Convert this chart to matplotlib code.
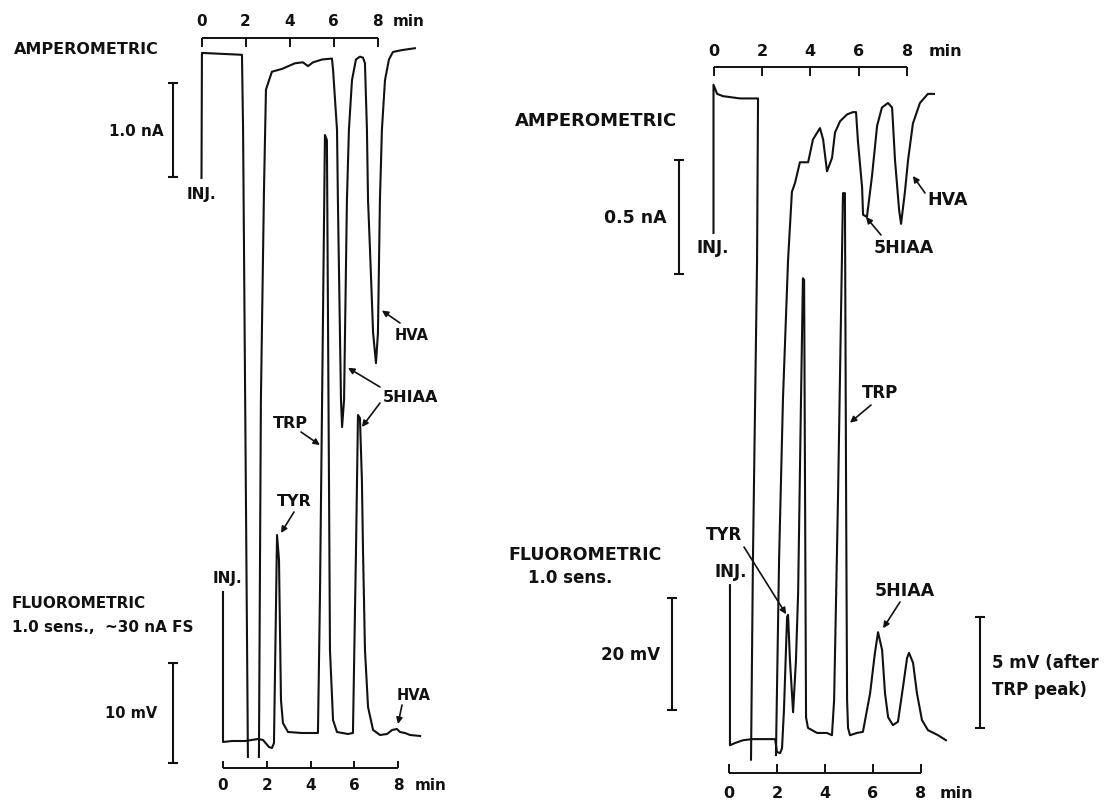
import matplotlib
matplotlib.use('Agg')
import matplotlib.pyplot as plt
import numpy as np
from matplotlib.transforms import blended_transform_factory as blend

nan = np.nan

# left panel: amperometric trace (min after injection, nA) - off-scale gap marked by nan
amp1_t = [0.00, 0.02, 1.84, 1.89, 2.11, nan, 2.61, 2.70, 2.84, 2.93, 3.20, 3.66,
          4.25, 4.61, 4.84, 5.07, 5.48, 5.93, 5.98, 6.16, 6.20, 6.34, 6.39, 6.48,
          6.61, 6.70, 6.84, 7.02, 7.20, 7.34, 7.43, 7.52, 7.57, 7.66, 7.80, 7.93,
          8.02, 8.11, 8.20, 8.34, 8.52, 8.70, 9.11, 9.70]
amp1_i = [-0.01, 1.32, 1.30, 0.50, -6.17, nan, -6.17, -2.37, -0.14, 0.93, 1.12, 1.15,
          1.21, 1.22, 1.18, 1.22, 1.25, 1.26, 1.14, 0.50, -0.25, -2.37, -2.66, -2.37,
          -0.25, 0.50, 1.03, 1.25, 1.28, 1.27, 1.21, 0.50, -0.25, -0.78, -1.66, -1.98,
          -1.66, -0.25, 0.50, 1.03, 1.25, 1.33, 1.35, 1.37]

# left panel: fluorometric trace (min, mV)
flu1_t = [0.00, 0.00, 0.41, 1.01, 1.60, 1.83, 2.10, 2.24, 2.33, 2.47, 2.56, 2.65,
          2.74, 2.97, 3.61, 4.34, 4.43, 4.53, 4.66, 4.75, 4.85, 4.89, 5.03, 5.21,
          5.71, 5.94, 6.08, 6.17, 6.26, 6.35, 6.40, 6.49, 6.63, 6.86, 7.18, 7.50,
          7.73, 7.95, 8.09, 8.32, 8.55, 9.01]
flu1_v = [17.1, 2.1, 2.2, 2.2, 2.4, 2.3, 1.6, 1.5, 2.0, 22.8, 20.3, 6.3,
          4.0, 3.1, 3.0, 3.0, 16.3, 36.3, 62.8, 62.3, 26.3, 11.3, 4.3, 3.1,
          2.9, 3.0, 21.3, 34.8, 34.5, 28.3, 21.3, 11.3, 5.6, 3.3, 2.8, 2.9,
          3.3, 3.4, 3.1, 3.0, 2.8, 2.7]

# right panel: amperometric trace (min, nA)
amp2_t = [0.00, 0.00, 0.15, 0.39, 1.10, 1.84, 1.80, 1.63, 1.55, nan, 2.58, 2.71,
          2.87, 3.08, 3.24, 3.37, 3.57, 3.78, 3.91, 4.11, 4.40, 4.53, 4.69, 4.90,
          5.02, 5.23, 5.52, 5.76, 5.89, 5.97, 6.14, 6.18, 6.34, 6.55, 6.76, 6.96,
          7.21, 7.38, 7.50, 7.67, 7.75, 7.91, 8.04, 8.24, 8.53, 8.86, 9.11]
amp2_i = [0.18, 0.83, 0.79, 0.78, 0.77, 0.77, 0.06, -1.25, -2.13, nan, -2.11, -1.25,
          -0.55, 0.06, 0.36, 0.40, 0.49, 0.49, 0.49, 0.59, 0.64, 0.59, 0.45, 0.51,
          0.62, 0.67, 0.70, 0.71, 0.71, 0.58, 0.38, 0.26, 0.25, 0.43, 0.65, 0.73,
          0.75, 0.73, 0.50, 0.28, 0.22, 0.36, 0.50, 0.66, 0.75, 0.79, 0.79]

# right panel: fluorometric trace (min, mV on the 20 mV scale)
flu2_t = [0.04, 0.04, 0.25, 0.58, 0.96, 1.92, 2.00, 2.13, 2.21, 2.29, 2.42, 2.46,
          2.54, 2.67, 2.79, 2.88, 3.00, 3.08, 3.13, 3.17, 3.21, 3.29, 3.67, 4.08,
          4.29, 4.38, 4.54, 4.75, 4.83, 4.88, 4.92, 4.96, 5.04, 5.33, 5.58, 5.88,
          6.08, 6.21, 6.38, 6.50, 6.63, 6.83, 7.04, 7.25, 7.42, 7.50, 7.67, 7.83,
          8.04, 8.29, 8.71, 9.04]
flu2_v = [22.3, -6.3, -5.9, -5.4, -5.2, -5.2, -7.5, -7.7, -6.8, 0.0, 16.6, 17.0,
          8.9, -0.4, 8.9, 20.9, 55.4, 77.1, 76.8, 37.5, -1.3, -3.2, -4.1, -4.1,
          -4.5, 1.8, 37.5, 92.3, 92.3, 37.5, 1.8, -3.2, -4.5, -4.1, -3.9, 3.0,
          10.2, 13.9, 10.7, 3.0, -1.3, -2.7, -2.1, 4.1, 9.3, 10.2, 8.4, 3.0,
          -1.8, -3.6, -4.5, -5.4]

time_ticks = [0, 2, 4, 6, 8]

W, H = 1111, 801
INK = '#111111'
plt.rcParams['font.family'] = ['DejaVu Sans']
plt.rcParams['font.weight'] = 'bold'

fig = plt.figure(figsize=(W / 100, H / 100), dpi=100)
fig.patch.set_facecolor('white')

# layout axes in pixel units (y down) for labels
lay = fig.add_axes([0, 0, 1, 1], label='layout')
lay.set_xlim(0, W)
lay.set_ylim(H, 0)
lay.axis('off')


def trace_axes(name, x0, ppm, y0, ppu):
    # x0/y0: pixel position of t=0 / signal 0, ppm/ppu: pixels per min / per unit
    ax = fig.add_axes([0, 0, 1, 1], label=name)
    ax.set_xlim(-x0 / ppm, (W - x0) / ppm)
    ax.set_ylim((y0 - H) / ppu, y0 / ppu)
    ax.axis('off')
    ax.patch.set_alpha(0)
    return ax


def time_bar(ax, ypix, tick_len, label_y, min_x, size):
    tr = blend(ax.transData, lay.transData)
    ax.hlines(ypix, time_ticks[0], time_ticks[-1], transform=tr, color=INK, lw=1.4)
    ax.vlines(time_ticks, ypix, ypix + tick_len, transform=tr, color=INK, lw=1.4)
    for t in time_ticks:
        ax.text(t, label_y, str(t), transform=tr, ha='center', va='center',
                fontsize=size, color=INK)
    lay.text(min_x, label_y, 'min', ha='left', va='center', fontsize=size, color=INK)


def scale_bar(ax, xpix, lo, hi, cap=5):
    tr = blend(lay.transData, ax.transData)
    ax.vlines(xpix, lo, hi, transform=tr, color=INK, lw=1.5)
    ax.hlines([lo, hi], xpix - cap, xpix + cap, transform=tr, color=INK, lw=1.5)


def pointer(ax, tip, tail):
    ax.annotate('', xy=tip, xycoords='data', xytext=tail, textcoords=lay.transData,
                arrowprops=dict(arrowstyle='-|>', color=INK, lw=1.2,
                                mutation_scale=9, shrinkA=0, shrinkB=0))


def label(x, y, s, ha='left', size=11, **kw):
    lay.text(x, y, s, ha=ha, va='center', fontsize=size, color=INK, **kw)


a1 = trace_axes('amp1', 201.5, 22.0, 177, 94)
f1 = trace_axes('flu1', 223, 21.875, 763, 10)
a2 = trace_axes('amp2', 713.5, 24.2, 274, 228)
f2 = trace_axes('flu2', 729, 24.0, 710, 5.6)

for ax, t, v in [(a1, amp1_t, amp1_i), (f1, flu1_t, flu1_v),
                 (a2, amp2_t, amp2_i), (f2, flu2_t, flu2_v)]:
    ax.plot(t, v, color=INK, lw=1.5, solid_joinstyle='round')

# time brackets
time_bar(a1, 38, 9, 22, 393, 11)
time_bar(f1, 768, -7, 785, 415, 11)
time_bar(a2, 67, 9, 52, 929, 11.5)
time_bar(f2, 773, -9, 794, 940, 11.5)

# scale bars
scale_bar(a1, 173, 0, 1.0)
scale_bar(f1, 173, 0, 10)
scale_bar(a2, 679, 0, 0.5)
scale_bar(f2, 672, 0, 20)
scale_bar(f2, 980, -3.2, 16.6)

# peak pointers
pointer(a1, (8.20, -1.42), (400, 323))
pointer(a1, (6.66, -2.03), (380, 387))
pointer(f1, (6.35, 33.6), (380, 403))
pointer(f1, (4.43, 31.8), (301, 432))
pointer(f1, (2.65, 23.0), (294, 512))
pointer(f1, (8.00, 3.9), (402, 705))
pointer(a2, (6.30, 0.25), (881, 235))
pointer(a2, (8.24, 0.43), (925, 193))
pointer(f2, (2.38, 17.1), (744, 547))
pointer(f2, (5.04, 51.3), (871, 405))
pointer(f2, (6.42, 14.6), (900, 602))

# left panel text
label(14, 50, 'AMPEROMETRIC', size=11.5)
label(164, 131, '1.0 nA', ha='right')
label(187, 194, 'INJ.')
label(395, 335, 'HVA', size=10.5)
label(383, 397, '5HIAA', size=11.5)
label(273, 423, 'TRP', size=11.5)
label(277, 501, 'TYR', size=11.5)
label(213, 579, 'INJ.')
label(12, 603, 'FLUOROMETRIC', size=11)
label(12, 627, '1.0 sens.,  ~30 nA FS', size=11)
label(157, 714, '10 mV', ha='right', size=10.5)
label(397, 695, 'HVA', size=10.5)

# right panel text
label(677, 121, 'AMPEROMETRIC', ha='right', size=13)
label(667, 218, '0.5 nA', ha='right', size=12.5)
label(697, 248, 'INJ.', size=12)
label(927, 200, 'HVA', size=12.5)
label(874, 248, '5HIAA', size=12.5)
label(862, 393, 'TRP', size=12)
label(706, 535, 'TYR', size=12)
label(715, 572, 'INJ.', size=12)
label(662, 555, 'FLUOROMETRIC', ha='right', size=12.5)
label(612, 578, '1.0 sens.', ha='right', size=12)
label(660, 655, '20 mV', ha='right', size=12)
label(875, 591, '5HIAA', size=12.5)
label(992, 663, '5 mV (after', size=12)
label(992, 690, 'TRP peak)', size=12)

fig.savefig('out.png', dpi=100, facecolor='white')
